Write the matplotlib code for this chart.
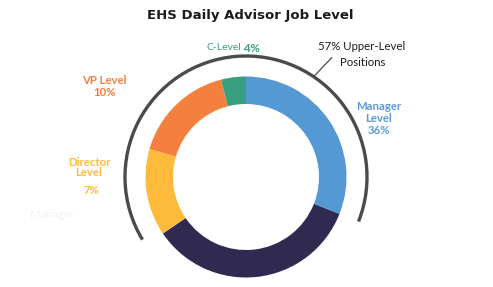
import numpy as np
import matplotlib
matplotlib.use("Agg")
import matplotlib.pyplot as plt
from matplotlib.patches import Arc

# segment order clockwise from 12 o'clock; shares as drawn in the ring
segments = ["Manager", "Other", "Director", "VP", "C-Level"]
ring_share = [31, 34.5, 14, 16.5, 4]
seg_colors = ["#5499d3", "#302a50", "#fdba3b", "#f4803d", "#3a9e80"]

# label text as printed on the chart
label_pct = {"Manager": 36, "Director": 7, "VP": 10, "C-Level": 4}
upper_pct = 57

W, H = 493, 287
cx, cy = 246, H - 177
r_out, r_in = 100.5, 73
r_arc = 121

fig = plt.figure(figsize=(W / 100, H / 100), dpi=100)
ax = fig.add_axes([0, 0, 1, 1])

ax.pie(ring_share, colors=seg_colors, startangle=90, counterclock=False,
       center=(cx, cy), radius=r_out,
       wedgeprops=dict(width=r_out - r_in, linewidth=0))

# bracket arc over the upper-level segments
total = sum(ring_share)
a_start = 90 - 360 * ring_share[0] / total
a_end = 90 + 360 * sum(ring_share[2:]) / total - 3
ax.add_patch(Arc((cx, cy), 2 * r_arc, 2 * r_arc, theta1=a_start, theta2=a_end,
                 color="#4b4b4b", lw=2.4))

# leader line from the arc to the note
ang = np.radians(56)
x0, y0 = cx + r_arc * np.cos(ang), cy + r_arc * np.sin(ang)
ax.plot([x0, x0 + 18], [y0, y0 + 19], color="#4b4b4b", lw=0.9)

ax.set_xlim(0, W)
ax.set_ylim(0, H)
ax.set_aspect("equal")
ax.axis("off")

ax.text(250, H - 15, "EHS Daily Advisor Job Level", ha="center", va="center",
        fontsize=9.5, fontweight="bold", color="#1a1a1a", family="DejaVu Sans")

lab = dict(ha="center", va="center", family="Lato", fontsize=8.2)
ax.text(362, H - 47, f"{upper_pct}% Upper-Level", color="#1a1a1a", **lab)
ax.text(363, H - 62, "Positions", color="#1a1a1a", **lab)

ax.text(379, H - 107, "Manager", color="#5b9bd5", fontweight="bold", **lab)
ax.text(379, H - 119, "Level", color="#5b9bd5", fontweight="bold", **lab)
ax.text(379, H - 131, f"{label_pct['Manager']}%", color="#5b9bd5", fontweight="bold", **lab)

ax.text(104, H - 80, "VP Level", color="#f4803d", fontweight="bold", **lab)
ax.text(104, H - 93, f"{label_pct['VP']}%", color="#f4803d", fontweight="bold", **lab)

ax.text(241, H - 48, "C-Level", color="#3a9e80", ha="right", va="center",
        family="Lato", fontsize=7.5)
ax.text(244, H - 48, f"{label_pct['C-Level']}%", color="#3a9e80", ha="left", va="center",
        family="Lato", fontsize=8.2, fontweight="bold")

ax.text(89, H - 162, "Director", color="#fdba3b", fontweight="bold", **lab)
ax.text(89, H - 173, "Level", color="#fdba3b", fontweight="bold", **lab)
ax.text(91, H - 190, f"{label_pct['Director']}%", color="#fdba3b", fontweight="bold", **lab)

# faint leftover text in the source image
ax.text(52, H - 214, "Manager", color="#f2f2f2", **lab)

fig.savefig("out.png", dpi=100)
